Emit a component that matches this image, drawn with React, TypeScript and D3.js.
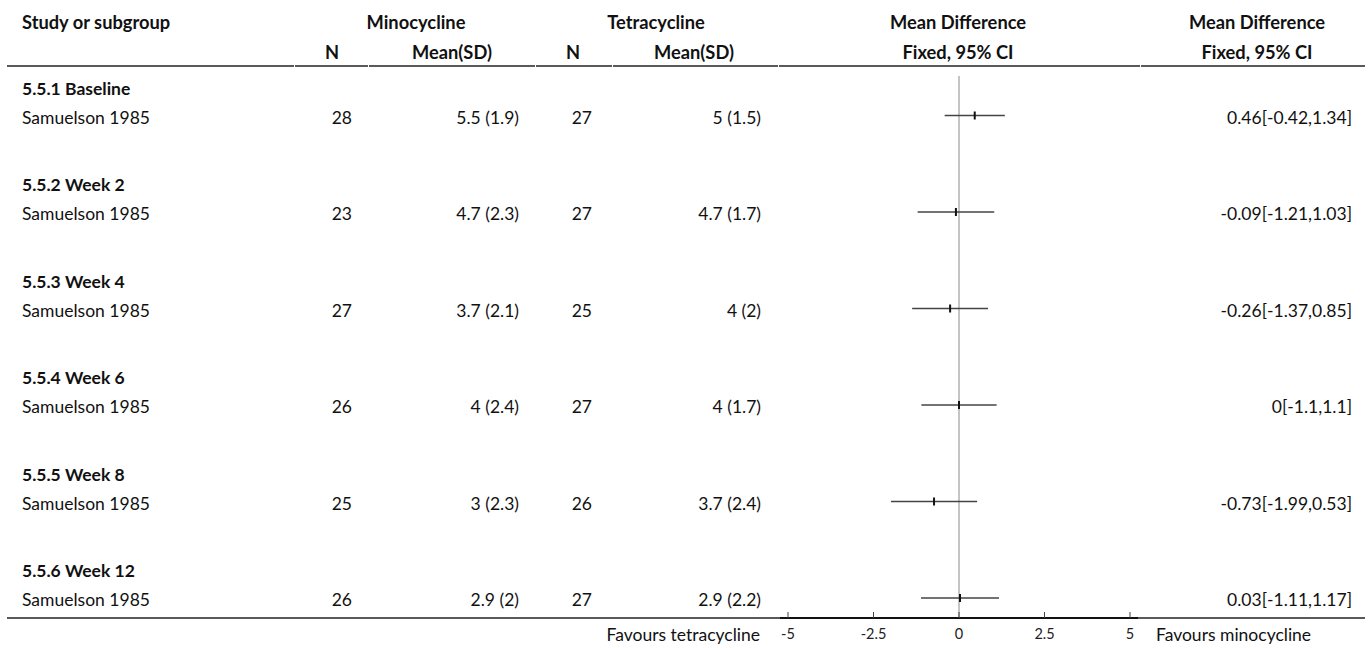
import React from "react";
import * as d3 from "d3";

// Subgroups (time points) and the single study in each
const subgroups = ["5.5.1 Baseline", "5.5.2 Week 2", "5.5.3 Week 4", "5.5.4 Week 6", "5.5.5 Week 8", "5.5.6 Week 12"];
const studies = ["Samuelson 1985", "Samuelson 1985", "Samuelson 1985", "Samuelson 1985", "Samuelson 1985", "Samuelson 1985"];

// Minocycline arm
const minoN = [28, 23, 27, 26, 25, 26];
const minoMean = [5.5, 4.7, 3.7, 4, 3, 2.9];
const minoSD = [1.9, 2.3, 2.1, 2.4, 2.3, 2];

// Tetracycline arm
const tetraN = [27, 27, 25, 27, 26, 27];
const tetraMean = [5, 4.7, 4, 4, 3.7, 2.9];
const tetraSD = [1.5, 1.7, 2, 1.7, 2.4, 2.2];

// Mean difference with 95% CI (fixed effect)
const md = [0.46, -0.09, -0.26, 0, -0.73, 0.03];
const ciLow = [-0.42, -1.21, -1.37, -1.1, -1.99, -1.11];
const ciHigh = [1.34, 1.03, 0.85, 1.1, 0.53, 1.17];

const axisTicks = [-5, -2.5, 0, 2.5, 5];
const favoursLeft = "Favours tetracycline";
const favoursRight = "Favours minocycline";

const W = 1370;
const H = 648;
const FONT = "Lato, 'Noto Sans', sans-serif";
const FS = 17.5;
const FS_HEAD = 18.3;

export default function App() {
  const x = d3.scaleLinear().domain([-5, 5]).range([788, 1130]);
  const groupY = d3.scaleLinear().domain([0, 1]).range([88, 184.5]);
  const studyOffset = 29;
  const axisY = 618;
  const headerLineY = 66;

  // header rule is drawn as column segments separated by hairline gaps
  const headerBreaks = [7, 294, 368, 535, 612, 778, 1140, 1365];

  const txt = (props: any, s: string) => (
    <text fontFamily={FONT} fontSize={FS} fill="#111" dominantBaseline="central" {...props}>
      {s}
    </text>
  );
  const head = (props: any, s: string) => txt({ fontWeight: "bold", fontSize: FS_HEAD, ...props }, s);

  return (
    <svg width={W} height={H} style={{ position: "absolute", left: 0, top: 0, background: "#fff" }}>
      {/* header */}
      {head({ x: 22, y: 22 }, "Study or subgroup")}
      {head({ x: 416, y: 22, textAnchor: "middle" }, "Minocycline")}
      {head({ x: 656, y: 22, textAnchor: "middle" }, "Tetracycline")}
      {head({ x: 958, y: 22, textAnchor: "middle" }, "Mean Difference")}
      {head({ x: 1257, y: 22, textAnchor: "middle" }, "Mean Difference")}
      {head({ x: 332, y: 52, textAnchor: "middle" }, "N")}
      {head({ x: 452, y: 52, textAnchor: "middle" }, "Mean(SD)")}
      {head({ x: 573, y: 52, textAnchor: "middle" }, "N")}
      {head({ x: 694, y: 52, textAnchor: "middle" }, "Mean(SD)")}
      {head({ x: 958, y: 52, textAnchor: "middle" }, "Fixed, 95% CI")}
      {head({ x: 1257, y: 52, textAnchor: "middle" }, "Fixed, 95% CI")}
      {headerBreaks.slice(0, -1).map((b, i) => (
        <line
          key={"hl" + i}
          x1={b + (i === 0 ? 0 : 1)}
          x2={headerBreaks[i + 1]}
          y1={headerLineY}
          y2={headerLineY}
          stroke="#222"
          strokeWidth={1.3}
        />
      ))}

      {/* line of no effect */}
      <line x1={x(0)} x2={x(0)} y1={76} y2={axisY} stroke="#8a8a8a" strokeWidth={1} />

      {/* rows */}
      {subgroups.map((g, i) => {
        const gy = groupY(i);
        const sy = gy + studyOffset;
        return (
          <g key={g}>
            {txt({ x: 22, y: gy, fontWeight: "bold" }, g)}
            {txt({ x: 22, y: sy }, studies[i])}
            {txt({ x: 352, y: sy, textAnchor: "end" }, String(minoN[i]))}
            {txt({ x: 519, y: sy, textAnchor: "end" }, `${minoMean[i]} (${minoSD[i]})`)}
            {txt({ x: 592, y: sy, textAnchor: "end" }, String(tetraN[i]))}
            {txt({ x: 761, y: sy, textAnchor: "end" }, `${tetraMean[i]} (${tetraSD[i]})`)}
            {txt({ x: 1352, y: sy, textAnchor: "end" }, `${md[i]}[${ciLow[i]},${ciHigh[i]}]`)}
            <line x1={x(ciLow[i])} x2={x(ciHigh[i])} y1={sy - 1.5} y2={sy - 1.5} stroke="#444" strokeWidth={1.5} />
            <line x1={x(md[i])} x2={x(md[i])} y1={sy - 5.5} y2={sy + 2.5} stroke="#111" strokeWidth={2} />
          </g>
        );
      })}

      {/* bottom rule and axis */}
      <line x1={7} x2={1365} y1={axisY} y2={axisY} stroke="#222" strokeWidth={1.3} />
      <line x1={x(-5) - 8} x2={x(5) + 8} y1={axisY} y2={axisY} stroke="#111" strokeWidth={2} />
      {axisTicks.map((t) => (
        <g key={"t" + t}>
          <line x1={x(t)} x2={x(t)} y1={axisY - 6} y2={axisY} stroke="#444" strokeWidth={1} />
          <text x={x(t)} y={633} textAnchor="middle" dominantBaseline="central" fontFamily={FONT} fontSize={14.5} fill="#222">
            {String(t)}
          </text>
        </g>
      ))}
      {txt({ x: 760, y: 634, textAnchor: "end" }, favoursLeft)}
      {txt({ x: 1156, y: 634 }, favoursRight)}
    </svg>
  );
}
